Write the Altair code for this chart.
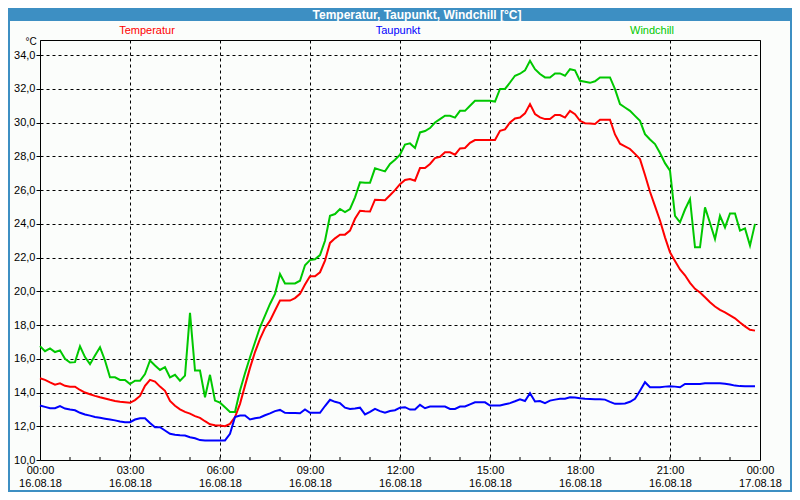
import altair as alt
import pandas as pd

TITLE = "Temperatur, Taupunkt, Windchill [°C]"
SERIES = ["Temperatur", "Taupunkt", "Windchill"]
COLORS = ["#ff0000", "#0000ff", "#00c800"]
UNIT = "°C"
DATES = ["16.08.18", "17.08.18"]

# 10-minute samples, 00:00 .. 23:50
minutes = list(range(0, 1440, 10))

temperatur = [
    14.85, 14.75, 14.6, 14.47, 14.55, 14.4,
    14.35, 14.35, 14.15, 14.0, 13.9, 13.8,
    13.72, 13.65, 13.57, 13.5, 13.45, 13.42,
    13.39, 13.55, 13.8, 14.4, 14.75, 14.65,
    14.35, 14.1, 13.5, 13.22, 13.0, 12.85,
    12.75, 12.6, 12.5, 12.3, 12.12, 12.06,
    12.04, 12.0, 12.14, 12.55, 13.33, 14.41,
    15.46, 16.4, 17.18, 17.83, 18.26, 18.86,
    19.45, 19.45, 19.45, 19.6, 19.85, 20.4,
    20.89, 20.89, 21.13, 21.82, 22.87, 23.14,
    23.36, 23.36, 23.6, 24.3, 24.78, 24.75,
    24.73, 25.43, 25.42, 25.4, 25.7, 26.0,
    26.35, 26.6, 26.66, 26.56, 27.31, 27.31,
    27.55, 27.9, 27.98, 28.24, 28.24, 28.1,
    28.47, 28.5, 28.8, 28.97, 28.97, 28.97,
    28.97, 28.97, 29.52, 29.6, 30.01, 30.25,
    30.3, 30.55, 31.1, 30.51, 30.31, 30.21,
    30.21, 30.45, 30.45, 30.3, 30.7, 30.5,
    30.11, 29.97, 29.95, 29.92, 30.17, 30.17,
    30.17, 29.3, 28.75, 28.6, 28.44, 28.15,
    27.84, 26.9, 25.9, 25.05, 24.2, 23.2,
    22.31, 21.8, 21.3, 20.95, 20.5, 20.15,
    19.93, 19.65, 19.35, 19.1, 18.9, 18.75,
    18.58, 18.4, 18.15, 17.92, 17.72, 17.67,
]

taupunkt = [
    13.23, 13.15, 13.07, 13.07, 13.2, 13.05,
    12.99, 12.95, 12.8, 12.7, 12.63, 12.55,
    12.5, 12.45, 12.4, 12.35, 12.28, 12.24,
    12.24, 12.4, 12.48, 12.48, 12.2, 11.94,
    11.94, 11.75, 11.55, 11.5, 11.47, 11.45,
    11.35, 11.29, 11.18, 11.16, 11.16, 11.16,
    11.16, 11.16, 11.55, 12.55, 12.64, 12.64,
    12.4, 12.48, 12.52, 12.65, 12.76, 12.9,
    12.97, 12.8, 12.78, 12.78, 12.77, 13.0,
    12.8, 12.8, 12.8, 13.2, 13.57, 13.45,
    13.37, 13.1, 13.03, 13.05, 13.1, 12.7,
    12.85, 13.03, 12.9, 12.8, 12.9, 12.95,
    13.1, 13.13, 12.99, 12.99, 13.27, 13.07,
    13.17, 13.17, 13.17, 13.17, 13.03, 13.03,
    13.17, 13.17, 13.3, 13.42, 13.42, 13.42,
    13.23, 13.23, 13.23, 13.3, 13.37, 13.48,
    13.6, 13.5, 13.96, 13.47, 13.5, 13.37,
    13.52, 13.58, 13.63, 13.63, 13.72, 13.7,
    13.66, 13.63, 13.62, 13.6, 13.6, 13.58,
    13.45, 13.33, 13.33, 13.35, 13.45, 13.63,
    14.1, 14.61, 14.31, 14.31, 14.31, 14.35,
    14.37, 14.35, 14.31, 14.51, 14.51, 14.51,
    14.51, 14.55, 14.55, 14.55, 14.55, 14.52,
    14.47, 14.41, 14.38, 14.37, 14.37, 14.37,
]

windchill = [
    16.75, 16.45, 16.62, 16.4, 16.5, 16.0,
    15.78, 15.8, 16.74, 16.1, 15.68, 16.2,
    16.68, 15.9, 14.9, 14.9, 14.75, 14.75,
    14.5, 14.7, 14.7, 15.1, 15.9, 15.6,
    15.34, 15.5, 14.9, 15.05, 14.7, 15.0,
    18.72, 15.3, 15.3, 13.72, 15.05, 13.52,
    13.4, 13.13, 12.85, 12.85, 14.12, 15.14,
    16.09, 16.98, 17.87, 18.56, 19.25, 19.85,
    21.03, 20.47, 20.47, 20.47, 20.63, 21.55,
    21.85, 21.9, 22.15, 23.0, 24.48, 24.58,
    24.88, 24.7, 24.88, 25.57, 26.46, 26.43,
    26.43, 27.29, 27.2, 27.11, 27.55, 27.8,
    28.1, 28.7, 28.77, 28.5, 29.42, 29.5,
    29.68, 30.01, 30.21, 30.41, 30.41, 30.3,
    30.7, 30.7, 31.0, 31.3, 31.3, 31.3,
    31.3, 31.25, 32.0, 32.0, 32.38, 32.78,
    32.9, 33.1, 33.67, 33.17, 32.88, 32.68,
    32.68, 32.92, 32.92, 32.78, 33.17, 33.1,
    32.48, 32.42, 32.36, 32.45, 32.68, 32.68,
    32.68, 31.99, 31.1, 30.9, 30.7, 30.4,
    30.11, 29.32, 29.0, 28.73, 28.2, 27.6,
    27.15, 24.48, 24.09, 24.85, 25.47, 22.61,
    22.61, 24.98, 24.05, 23.1, 24.48, 23.79,
    24.62, 24.62, 23.6, 23.73, 22.71, 24.0,
]

x_major_hours = [0, 3, 6, 9, 12, 15, 18, 21, 24]
x_minor_hours = list(range(1, 24))
y_tick_values = [10, 12, 14, 16, 18, 20, 22, 24, 26, 28, 30, 32, 34]

assert len(temperatur) == len(taupunkt) == len(windchill) == len(minutes)

hours = [m / 60 for m in minutes]
rows = []
for name, vals in zip(SERIES, [temperatur, taupunkt, windchill]):
    for h, v in zip(hours, vals):
        rows.append({"hour": h, "value": v, "series": name})
df = pd.DataFrame(rows)

FONT = "Liberation Sans"

x_label_expr = (
    "[(datum.value >= 24 ? '00' : (datum.value < 10 ? '0' : '') + datum.value) + ':00', "
    f"datum.value >= 24 ? '{DATES[1]}' : '{DATES[0]}']"
)

x_axis = alt.Axis(
    values=x_major_hours, title=None, grid=True, ticks=False, domain=False,
    labelExpr=x_label_expr, labelFontSize=11, labelLineHeight=13,
    labelPadding=4, labelBaseline="top", labelColor="black", labelFont=FONT,
    gridColor="black", gridDash=[3, 3], gridOpacity=1, gridWidth=1,
    labelFlush=False, labelOverlap=False,
)
y_axis = alt.Axis(
    values=y_tick_values, title=None, grid=True, ticks=True, tickSize=4,
    tickColor="black", domain=False,
    labelExpr="replace(format(datum.value, '.1f'), '.', ',')",
    labelFontSize=11, labelPadding=1, labelColor="black", labelFont=FONT,
    gridColor="black", gridDash=[3, 3], gridOpacity=1, gridWidth=1,
    labelFlush=False, labelOverlap=False,
)

x_enc = alt.X("hour:Q", scale=alt.Scale(domain=[0, 24], nice=False, zero=False), axis=x_axis)
y_enc = alt.Y("value:Q", scale=alt.Scale(domain=[10, 34.9], nice=False, zero=False), axis=y_axis)

lines = alt.Chart(df).mark_line(strokeWidth=2).encode(
    x=x_enc,
    y=y_enc,
    color=alt.Color("series:N", scale=alt.Scale(domain=SERIES, range=COLORS), legend=None),
    order=alt.Order("hour:Q"),
)

minor = alt.Chart(pd.DataFrame({"hour": x_minor_hours})).mark_rule(
    color="black", strokeWidth=1
).encode(x=x_enc, y=alt.value(417), y2=alt.value(420))

one = pd.DataFrame({"t": [TITLE]})
title_bar = alt.Chart(one).mark_rect(color="#3d8fc3").encode(
    x=alt.value(-32), x2=alt.value(752), y=alt.value(-32), y2=alt.value(-19)
)
border_l = alt.Chart(one).mark_rule(color="#3d8fc3", strokeWidth=2).encode(
    x=alt.value(-31), y=alt.value(-32), y2=alt.value(452)
)
border_r = alt.Chart(one).mark_rule(color="#3d8fc3", strokeWidth=2).encode(
    x=alt.value(751), y=alt.value(-32), y2=alt.value(452)
)
border_b = alt.Chart(one).mark_rule(color="#3d8fc3", strokeWidth=2).encode(
    x=alt.value(-32), x2=alt.value(752), y=alt.value(451)
)
title_text = alt.Chart(one).mark_text(
    color="white", fontWeight="bold", fontSize=12, font=FONT,
    align="center", baseline="middle"
).encode(text="t:N", x=alt.value(377), y=alt.value(-25.5))

legend_x = [107, 358, 612]
legend_layers = []
for name, col, lx in zip(SERIES, COLORS, legend_x):
    legend_layers.append(
        alt.Chart(pd.DataFrame({"t": [name]})).mark_text(
            color=col, fontSize=11, font=FONT, align="center", baseline="middle"
        ).encode(text="t:N", x=alt.value(lx), y=alt.value(-9))
    )

unit_text = alt.Chart(pd.DataFrame({"t": [UNIT]})).mark_text(
    color="black", fontSize=10, font=FONT, align="center", baseline="middle"
).encode(text="t:N", x=alt.value(-9), y=alt.value(2))

chart = alt.layer(
    title_bar, border_l, border_r, border_b, lines, minor, title_text, unit_text, *legend_layers
).properties(
    width=720, height=420,
    padding={"left": 32, "top": 32, "right": 32, "bottom": 32},
    autosize=alt.AutoSizeParams(type="none"),
    background="#fbfdfb",
).configure_view(
    stroke="black", strokeWidth=1
)

chart.save("out.html", embed_options={"renderer": "svg", "actions": False})
